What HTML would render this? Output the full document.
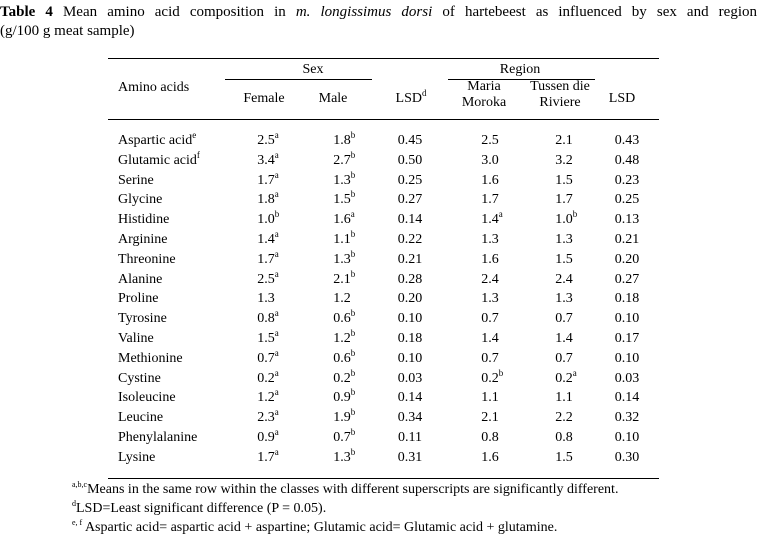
<!DOCTYPE html>
<html><head><meta charset="utf-8"><style>
body{margin:0;background:#fff;}
#pg{position:relative;width:771px;height:539px;overflow:hidden;font-family:"Liberation Serif",serif;color:#000;font-size:14px;}
.t{position:absolute;white-space:nowrap;line-height:1;}
.c{transform:translate(-50%,-50%);}
.l{transform:translateY(-50%);}
.rule{position:absolute;height:1px;background:#000;}
sup{font-size:9px;line-height:0;vertical-align:6px;}
.s{position:absolute;left:100%;top:-3px;font-size:9px;}
</style></head><body>
<div id="pg">
<div class="t" style="left:0;top:5px;width:757px;font-size:15px;text-align:justify;text-align-last:justify;"><b>Table 4</b> Mean amino acid composition in <i>m. longissimus dorsi</i> of hartebeest as influenced by sex and region</div>
<div class="t" style="left:0;top:24px;font-size:15px;">(g/100 g meat sample)</div>

<div class="rule" style="left:108px;width:551px;top:58px;"></div>
<div class="rule" style="left:225px;width:147px;top:79px;"></div>
<div class="rule" style="left:448px;width:147px;top:79px;"></div>
<div class="rule" style="left:108px;width:551px;top:119px;"></div>
<div class="rule" style="left:108px;width:551px;top:478px;"></div>

<div class="t l" style="left:118px;top:88px;">Amino acids</div>
<div class="t c" style="left:313px;top:70px;">Sex</div>
<div class="t c" style="left:520px;top:70px;">Region</div>
<div class="t c" style="left:264px;top:99px;">Female</div>
<div class="t c" style="left:333px;top:99px;">Male</div>
<div class="t c" style="left:411px;top:99px;">LSD<sup>d</sup></div>
<div class="t c" style="left:484px;top:95px;text-align:center;line-height:16px;">Maria<br>Moroka</div>
<div class="t c" style="left:560px;top:95px;text-align:center;line-height:16px;">Tussen die<br>Riviere</div>
<div class="t c" style="left:622px;top:99px;">LSD</div>

<div id="rows"></div>

<div class="t" style="left:72px;top:483px;font-size:14px;"><sup style="font-size:8px">a,b,c</sup>Means in the same row within the classes with different superscripts are significantly different.</div>
<div class="t" style="left:72px;top:502px;font-size:14px;"><sup style="font-size:8px">d</sup>LSD=Least significant difference (P = 0.05).</div>
<div class="t" style="left:72px;top:521px;font-size:14px;"><sup style="font-size:8px">e, f</sup> Aspartic acid= aspartic acid + aspartine; Glutamic acid= Glutamic acid + glutamine.</div>
</div>
<script>
const names=["Aspartic acid","Glutamic acid","Serine","Glycine","Histidine","Arginine","Threonine","Alanine","Proline","Tyrosine","Valine","Methionine","Cystine","Isoleucine","Leucine","Phenylalanine","Lysine"];
const nameSup=["e","f","","","","","","","","","","","","","","",""];
const female=["2.5","3.4","1.7","1.8","1.0","1.4","1.7","2.5","1.3","0.8","1.5","0.7","0.2","1.2","2.3","0.9","1.7"];
const femaleSup=["a","a","a","a","b","a","a","a","","a","a","a","a","a","a","a","a"];
const male=["1.8","2.7","1.3","1.5","1.6","1.1","1.3","2.1","1.2","0.6","1.2","0.6","0.2","0.9","1.9","0.7","1.3"];
const maleSup=["b","b","b","b","a","b","b","b","","b","b","b","b","b","b","b","b"];
const lsdSex=["0.45","0.50","0.25","0.27","0.14","0.22","0.21","0.28","0.20","0.10","0.18","0.10","0.03","0.14","0.34","0.11","0.31"];
const maria=["2.5","3.0","1.6","1.7","1.4","1.3","1.6","2.4","1.3","0.7","1.4","0.7","0.2","1.1","2.1","0.8","1.6"];
const mariaSup=["","","","","a","","","","","","","","b","","","",""];
const tussen=["2.1","3.2","1.5","1.7","1.0","1.3","1.5","2.4","1.3","0.7","1.4","0.7","0.2","1.1","2.2","0.8","1.5"];
const tussenSup=["","","","","b","","","","","","","","a","","","",""];
const lsdRegion=["0.43","0.48","0.23","0.25","0.13","0.21","0.20","0.27","0.18","0.10","0.17","0.10","0.03","0.14","0.32","0.10","0.30"];
const rows=document.getElementById('rows');
function cell(x,y,txt,sup,nm){
  const d=document.createElement('div');
  d.className='t c';
  d.style.left=x+'px';d.style.top=y+'px';
  d.textContent=txt;
  if(sup){const s=document.createElement('span');s.className='s';s.textContent=sup;d.appendChild(s);}
  
  
  rows.appendChild(d);
}
names.forEach((n,i)=>{
  const y=141+i*19.8;
  const d=document.createElement('div');
  d.className='t l';d.style.left='118px';d.style.top=y+'px';
  d.innerHTML=n+(nameSup[i]?'<sup>'+nameSup[i]+'</sup>':'');
  
  
  rows.appendChild(d);
  cell(266,y,female[i],femaleSup[i],'female-value');
  cell(342,y,male[i],maleSup[i],'male-value');
  cell(410,y,lsdSex[i],'','lsd-sex-value');
  cell(490,y,maria[i],mariaSup[i],'maria-moroka-value');
  cell(564,y,tussen[i],tussenSup[i],'tussen-value');
  cell(627,y,lsdRegion[i],'','lsd-region-value');
});
</script>
</body></html>
